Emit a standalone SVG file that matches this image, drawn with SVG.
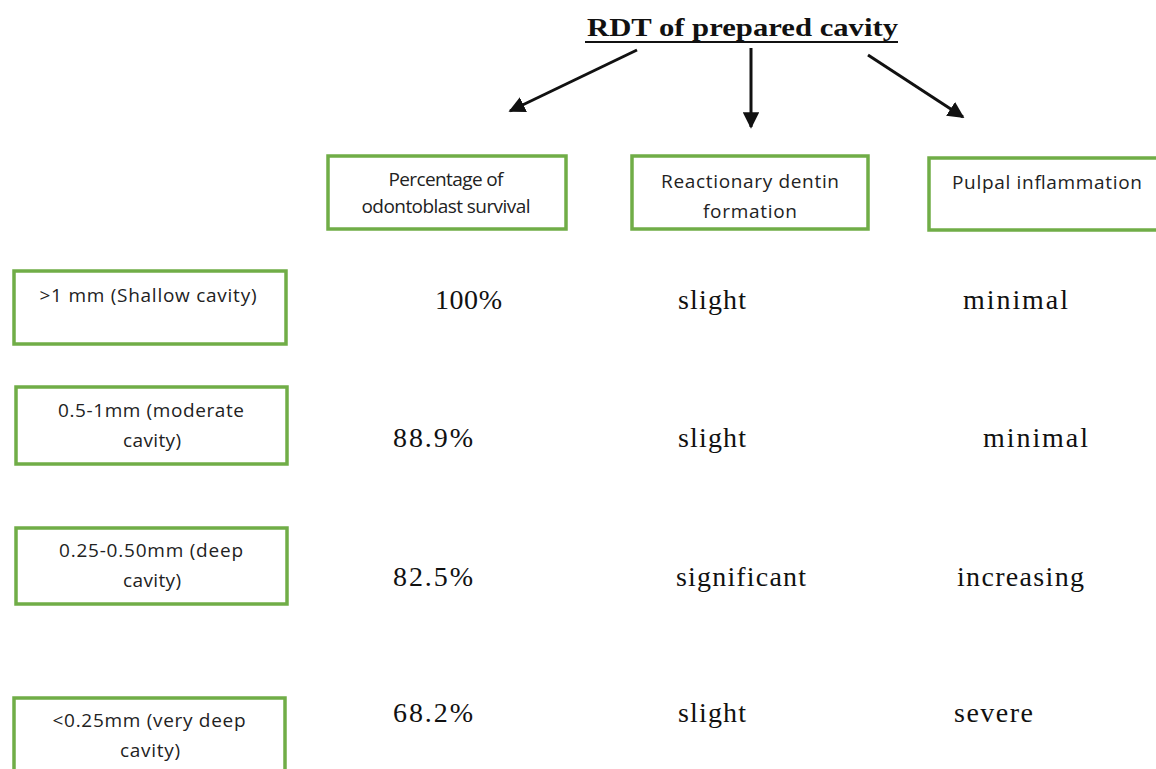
<svg xmlns="http://www.w3.org/2000/svg" width="1156" height="769" viewBox="0 0 1156 769">
<defs>
<style>
.box{fill:#fff;stroke:#70AD47;stroke-width:3.5}
.lbl{font-family:"Open Sans","Liberation Sans",sans-serif;font-size:19px;fill:#222;text-anchor:middle}
.val{font-family:"Liberation Serif",serif;font-size:28px;fill:#111}
.title{font-family:"Liberation Serif",serif;font-size:26px;font-weight:bold;fill:#111}
.conn{stroke:#111;stroke-width:3;fill:none}
</style>
<marker id="ah" viewBox="0 0 10 10" refX="9" refY="5" markerWidth="5.5" markerHeight="5.5" orient="auto" markerUnits="strokeWidth">
<path d="M0,0 L10,5 L0,10 z" fill="#111"/>
</marker>
</defs>
<rect width="1156" height="769" fill="#fff"/>
<g id="title">
<text class="title" x="587" y="36" textLength="311" lengthAdjust="spacingAndGlyphs">RDT  of prepared cavity</text>
<line x1="585" y1="42" x2="898" y2="42" stroke="#111" stroke-width="2"/>
</g>
<g id="connectors">
<line class="conn" x1="637" y1="50" x2="510" y2="111" marker-end="url(#ah)"/>
<line class="conn" x1="751" y1="48" x2="751" y2="127" marker-end="url(#ah)"/>
<line class="conn" x1="868" y1="55" x2="963" y2="117" marker-end="url(#ah)"/>
</g>
<g id="h1">
<rect class="box" x="328" y="156" width="238" height="73"/>
<text class="lbl" x="446" y="186" font-size="15" textLength="115">Percentage of</text>
<text class="lbl" x="446" y="213" font-size="15" textLength="169">odontoblast survival</text>
</g>
<g id="h2">
<rect class="box" x="632" y="156" width="236" height="73"/>
<text class="lbl" x="750" y="188" textLength="178">Reactionary dentin</text>
<text class="lbl" x="750" y="218" textLength="94">formation</text>
</g>
<g id="h3">
<rect class="box" x="929" y="158" width="240" height="72"/>
<text class="lbl" x="1047" y="189" textLength="190">Pulpal inflammation</text>
</g>
<g id="r1">
<rect class="box" x="14" y="271" width="272" height="73"/>
<text class="lbl" x="148" y="302" textLength="217">&gt;1 mm (Shallow cavity)</text>
</g>
<g id="r2">
<rect class="box" x="16" y="387" width="271" height="77"/>
<text class="lbl" x="151" y="417" textLength="186">0.5-1mm (moderate</text>
<text class="lbl" x="152" y="447" textLength="58">cavity)</text>
</g>
<g id="r3">
<rect class="box" x="16" y="528" width="271" height="76"/>
<text class="lbl" x="151" y="557" textLength="184">0.25-0.50mm (deep</text>
<text class="lbl" x="152" y="587" textLength="58">cavity)</text>
</g>
<g id="r4">
<rect class="box" x="14" y="698" width="271" height="80"/>
<text class="lbl" x="149" y="727" textLength="193">&lt;0.25mm (very deep</text>
<text class="lbl" x="150" y="757" textLength="60">cavity)</text>
</g>
<g id="values">
<text class="val" x="435" y="309" textLength="67">100%</text>
<text class="val" x="678" y="309" textLength="68">slight</text>
<text class="val" x="963" y="309" textLength="105">minimal</text>
<text class="val" x="393" y="447" textLength="80">88.9%</text>
<text class="val" x="678" y="447" textLength="68">slight</text>
<text class="val" x="983" y="447" textLength="105">minimal</text>
<text class="val" x="393" y="586" textLength="80">82.5%</text>
<text class="val" x="676" y="586" textLength="130">significant</text>
<text class="val" x="957" y="586" textLength="127">increasing</text>
<text class="val" x="393" y="722" textLength="80">68.2%</text>
<text class="val" x="678" y="722" textLength="68">slight</text>
<text class="val" x="954" y="722" textLength="79">severe</text>
</g>
</svg>
